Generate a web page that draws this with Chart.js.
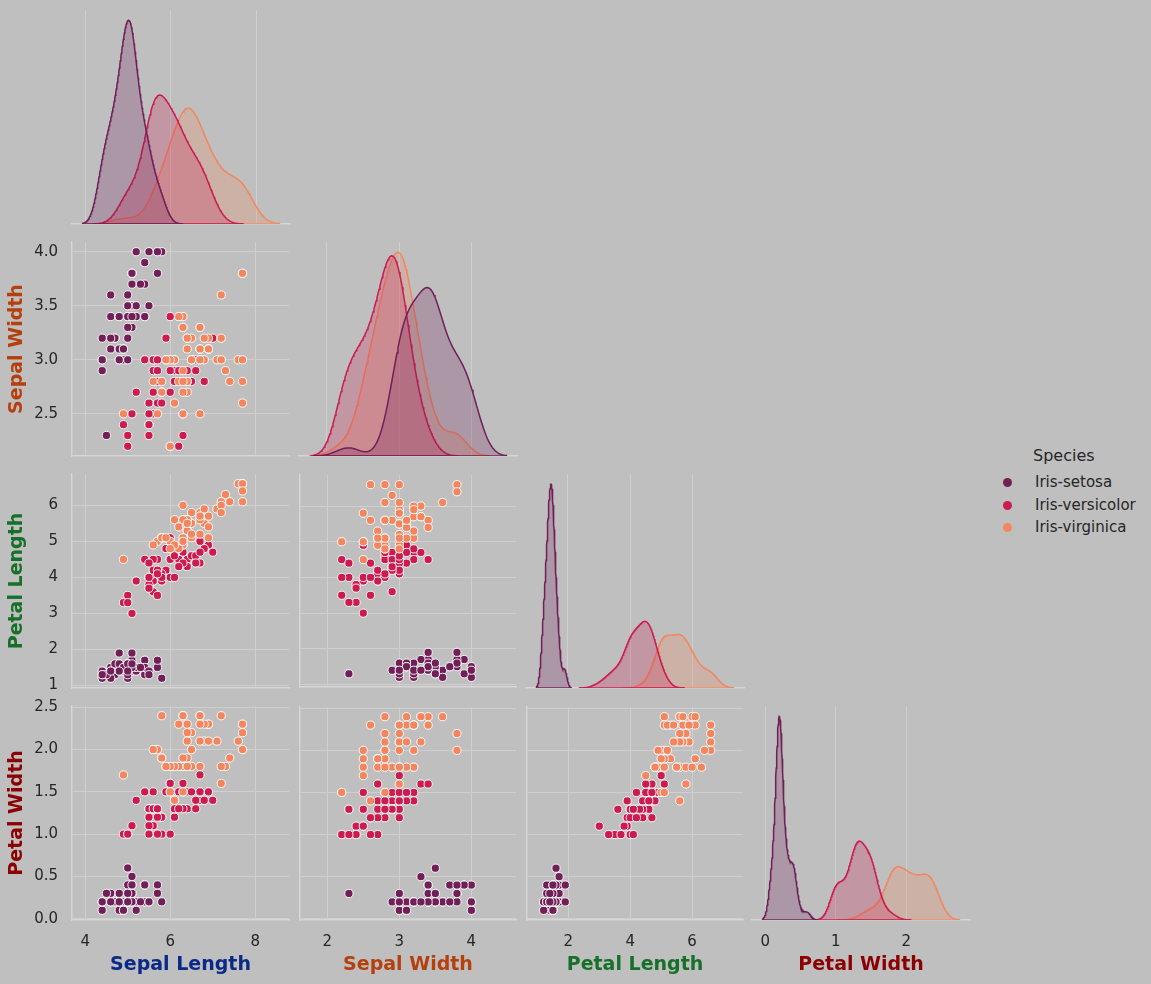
<!DOCTYPE html>
<html>
<head>
<meta charset="utf-8">
<script src="https://cdn.jsdelivr.net/npm/chart.js@4.4.0/dist/chart.umd.min.js"></script>
<style>
  html, body { margin: 0; padding: 0; background: #bfbfbf; overflow: hidden; }
  #wrap { position: relative; width: 1151px; height: 984px; font-family: 'DejaVu Sans', sans-serif; color: #262626; }
  #wrap canvas { position: absolute; }
  .lg-title { position: absolute; font-size: 16px; line-height: 18px; white-space: nowrap; }
  .lg-text { position: absolute; font-size: 15px; line-height: 18px; white-space: nowrap; }
  .lg-dot { position: absolute; width: 9px; height: 9px; border-radius: 50%; }
</style>
</head>
<body>
<div id="wrap"></div>
<script>
// Iris data (values as plotted: extremes sit at the 2nd / 98th percentile)
const species = ['Iris-setosa', 'Iris-versicolor', 'Iris-virginica'];
const speciesColors = ['#701f57', '#cb1b4f', '#f3865f'];
const features = ['Sepal Length', 'Sepal Width', 'Petal Length', 'Petal Width'];
const featureColors = ['#0b2a87', '#b5400f', '#17702a', '#8b0000'];

const setosaSepalLength = [5.1,4.9,4.7,4.6,5.0,5.4,4.6,5.0,4.4,4.9,5.4,4.8,4.8,4.4,5.8,5.7,5.4,5.1,5.7,5.1,5.4,5.1,4.6,5.1,4.8,5.0,5.0,5.2,5.2,4.7,4.8,5.4,5.2,5.5,4.9,5.0,5.5,4.9,4.4,5.1,5.0,4.5,4.4,5.0,5.1,4.8,5.1,4.6,5.3,5.0];
const setosaSepalWidth  = [3.5,3.0,3.2,3.1,3.6,3.9,3.4,3.4,2.9,3.1,3.7,3.4,3.0,3.0,4.0,4.0,3.9,3.5,3.8,3.8,3.4,3.7,3.6,3.3,3.4,3.0,3.4,3.5,3.4,3.2,3.1,3.4,4.0,4.0,3.1,3.2,3.5,3.1,3.0,3.4,3.5,2.3,3.2,3.5,3.8,3.0,3.8,3.2,3.7,3.3];
const setosaPetalLength = [1.4,1.4,1.3,1.5,1.4,1.7,1.4,1.5,1.4,1.5,1.5,1.6,1.4,1.2,1.2,1.5,1.3,1.4,1.7,1.5,1.7,1.5,1.2,1.7,1.9,1.6,1.6,1.5,1.4,1.6,1.6,1.5,1.5,1.4,1.5,1.2,1.3,1.5,1.3,1.5,1.3,1.3,1.3,1.6,1.9,1.4,1.6,1.4,1.5,1.4];
const setosaPetalWidth  = [0.2,0.2,0.2,0.2,0.2,0.4,0.3,0.2,0.2,0.1,0.2,0.2,0.1,0.1,0.2,0.4,0.4,0.3,0.3,0.3,0.2,0.4,0.2,0.5,0.2,0.2,0.4,0.2,0.2,0.2,0.2,0.4,0.1,0.2,0.1,0.2,0.2,0.1,0.2,0.2,0.3,0.3,0.2,0.6,0.4,0.3,0.2,0.2,0.2,0.2];

const versicolorSepalLength = [7.0,6.4,6.9,5.5,6.5,5.7,6.3,4.9,6.6,5.2,5.0,5.9,6.0,6.1,5.6,6.7,5.6,5.8,6.2,5.6,5.9,6.1,6.3,6.1,6.4,6.6,6.8,6.7,6.0,5.7,5.5,5.5,5.8,6.0,5.4,6.0,6.7,6.3,5.6,5.5,5.5,6.1,5.8,5.0,5.6,5.7,5.7,6.2,5.1,5.7];
const versicolorSepalWidth  = [3.2,3.2,3.1,2.3,2.8,2.8,3.3,2.4,2.9,2.7,2.2,3.0,2.2,2.9,2.9,3.1,3.0,2.7,2.2,2.5,3.2,2.8,2.5,2.8,2.9,3.0,2.8,3.0,2.9,2.6,2.4,2.4,2.7,2.7,3.0,3.4,3.1,2.3,3.0,2.5,2.6,3.0,2.6,2.3,2.7,3.0,2.9,2.9,2.5,2.8];
const versicolorPetalLength = [4.7,4.5,4.9,4.0,4.6,4.5,4.7,3.3,4.6,3.9,3.5,4.2,4.0,4.7,3.6,4.4,4.5,4.1,4.5,3.9,4.8,4.0,4.9,4.7,4.3,4.4,4.8,5.0,4.5,3.5,3.8,3.7,3.9,5.1,4.5,4.5,4.7,4.4,4.1,4.0,4.4,4.6,4.0,3.3,4.2,4.2,4.2,4.3,3.0,4.1];
const versicolorPetalWidth  = [1.4,1.5,1.5,1.3,1.5,1.3,1.6,1.0,1.3,1.4,1.0,1.5,1.0,1.4,1.3,1.4,1.5,1.0,1.5,1.1,1.8,1.3,1.5,1.2,1.3,1.4,1.4,1.7,1.5,1.0,1.1,1.0,1.2,1.6,1.5,1.6,1.5,1.3,1.3,1.3,1.2,1.4,1.2,1.0,1.3,1.2,1.3,1.3,1.1,1.3];

const virginicaSepalLength = [6.3,5.8,7.1,6.3,6.5,7.6,4.9,7.3,6.7,7.2,6.5,6.4,6.8,5.7,5.8,6.4,6.5,7.7,7.7,6.0,6.9,5.6,7.7,6.3,6.7,7.2,6.2,6.1,6.4,7.2,7.4,7.7,6.4,6.3,6.1,7.7,6.3,6.4,6.0,6.9,6.7,6.9,5.8,6.8,6.7,6.7,6.3,6.5,6.2,5.9];
const virginicaSepalWidth  = [3.3,2.7,3.0,2.9,3.0,3.0,2.5,2.9,2.5,3.6,3.2,2.7,3.0,2.5,2.8,3.2,3.0,3.8,2.6,2.2,3.2,2.8,2.8,2.7,3.3,3.2,2.8,3.0,2.8,3.0,2.8,3.8,2.8,2.8,2.6,3.0,3.4,3.1,3.0,3.1,3.1,3.1,2.7,3.2,3.3,3.0,2.5,3.0,3.4,3.0];
const virginicaPetalLength = [6.0,5.1,5.9,5.6,5.8,6.6,4.5,6.3,5.8,6.1,5.1,5.3,5.5,5.0,5.1,5.3,5.5,6.6,6.6,5.0,5.7,4.9,6.6,4.9,5.7,6.0,4.8,4.9,5.6,5.8,6.1,6.4,5.6,5.1,5.6,6.1,5.6,5.5,4.8,5.4,5.6,5.1,5.1,5.9,5.7,5.2,5.0,5.2,5.4,5.1];
const virginicaPetalWidth  = [2.4,1.9,2.1,1.8,2.2,2.1,1.7,1.8,1.8,2.4,2.0,1.9,2.1,2.0,2.4,2.3,1.8,2.2,2.3,1.5,2.3,2.0,2.0,1.8,2.1,1.8,1.8,1.8,2.1,1.6,1.9,2.0,2.2,1.5,1.4,2.3,2.4,1.8,1.8,2.1,2.4,2.3,1.9,2.3,2.4,2.3,1.9,2.0,2.3,1.8];

// tick steps / label decimals
const xTickSteps = [2, 1, 2, 1];      // x ticks of each column
const xTickDecimals = [0, 0, 0, 0];
const yTickSteps = [1, 0.5, 1, 0.5];  // y ticks of each row
const yTickDecimals = [0, 1, 0, 1];

// data[species][feature]
const data = [
  [setosaSepalLength, setosaSepalWidth, setosaPetalLength, setosaPetalWidth],
  [versicolorSepalLength, versicolorSepalWidth, versicolorPetalLength, versicolorPetalWidth],
  [virginicaSepalLength, virginicaSepalWidth, virginicaPetalLength, virginicaPetalWidth]
];
const totalCount = data.reduce((s, sp) => s + sp[0].length, 0);

// layout of the grid
const colLeft = [72, 299, 526, 752];
const rowTop = [10, 242, 474, 706];
const W = 218, H = 214;
const gridColor = '#cfcfcf';
const spineColor = '#d6d6d6';
const tickColor = '#262626';
const FONT = "'DejaVu Sans', sans-serif";

Chart.defaults.font.family = FONT;
Chart.defaults.color = tickColor;

/**
 * Gaussian KDE like seaborn (scott bandwidth, cut 3, 200 points, common_norm).
 */
function kdeCurve(values) {
  const n = values.length;
  const mean = values.reduce((a, b) => a + b, 0) / n;
  const sd = Math.sqrt(values.reduce((a, v) => a + (v - mean) ** 2, 0) / (n - 1));
  const bw = sd * Math.pow(n, -0.2);
  const lo = Math.min(...values) - 3 * bw;
  const hi = Math.max(...values) + 3 * bw;
  const pts = [];
  for (let k = 0; k < 200; k++) {
    const x = lo + (hi - lo) * k / 199;
    let s = 0;
    for (const v of values) s += Math.exp(-0.5 * ((x - v) / bw) ** 2);
    const d = s / (n * bw * Math.sqrt(2 * Math.PI)) * (n / totalCount);
    pts.push({ x, y: d });
  }
  return { pts, lo, hi };
}

const kdes = features.map((f, j) => data.map(sp => kdeCurve(sp[j])));

// shared column x ranges (kde supports + 5% margin)
const xRanges = kdes.map(list => {
  const lo = Math.min(...list.map(k => k.lo));
  const hi = Math.max(...list.map(k => k.hi));
  const r = hi - lo;
  return [lo - 0.05 * r, hi + 0.05 * r];
});
// shared row y ranges (scatter data + 5% margin)
const yRanges = features.map((f, j) => {
  const all = data.flatMap(sp => sp[j]);
  const lo = Math.min(...all), hi = Math.max(...all);
  const r = hi - lo;
  return [lo - 0.05 * r, hi + 0.05 * r];
});
const diagMax = kdes.map(list => Math.max(...list.flatMap(k => k.pts.map(p => p.y))) * 1.05);

function fixBox(prop, val) {
  return s => {
    s[prop] = val;
    s.paddingLeft = 0; s.paddingRight = 0; s.paddingTop = 0; s.paddingBottom = 0;
  };
}

function fmt(dec) {
  return v => Number(v).toFixed(dec);
}

const wrap = document.getElementById('wrap');

function makePanel(r, c) {
  const isDiag = r === c;
  const labelled = c === 0 && r > 0;
  const padL = labelled ? colLeft[0] : 4;
  const padB = r === 3 ? 64 : (labelled ? 12 : 4);
  const padT = labelled ? 12 : 4;
  const padR = 4;

  const canvas = document.createElement('canvas');
  canvas.width = W + padL + padR;
  canvas.height = H + padT + padB;
  canvas.style.left = (colLeft[c] - padL) + 'px';
  canvas.style.top = (rowTop[r] - padT) + 'px';
  wrap.appendChild(canvas);

  const xScale = {
    type: 'linear',
    min: xRanges[c][0],
    max: xRanges[c][1],
    afterFit: fixBox('height', padB),
    grid: { color: gridColor, lineWidth: 1, drawTicks: false },
    border: { display: true, color: spineColor, width: 1.5 },
    ticks: {
      display: r === 3,
      stepSize: xTickSteps[c],
      includeBounds: false,
      padding: 13,
      maxRotation: 0,
      autoSkip: false,
      color: tickColor,
      font: { size: 15 },
      callback: fmt(xTickDecimals[c])
    },
    title: {
      display: r === 3,
      text: features[c],
      color: featureColors[c],
      font: { size: 19, weight: 'bold' },
      padding: { top: 0, bottom: 8 }
    }
  };

  let yScale, datasets, type;
  if (isDiag) {
    type = 'line';
    yScale = {
      type: 'linear',
      min: 0,
      max: diagMax[c],
      afterFit: fixBox('width', padL),
      grid: { display: false },
      border: { display: false },
      ticks: { display: false }
    };
    datasets = species.map((name, k) => ({
      label: name,
      data: kdes[c][k].pts,
      borderColor: speciesColors[k],
      backgroundColor: speciesColors[k] + '40',
      borderWidth: 1.5,
      pointRadius: 0,
      fill: 'origin',
      tension: 0,
      order: k + 1
    }));
    // edge of each filled area along the baseline
    species.forEach((name, k) => {
      datasets.push({
        label: name + ' base',
        data: [{ x: kdes[c][k].lo, y: 0 }, { x: kdes[c][k].hi, y: 0 }],
        borderColor: speciesColors[k],
        borderWidth: 1.5,
        pointRadius: 0,
        fill: false,
        order: k + 1
      });
    });
  } else {
    type = 'scatter';
    yScale = {
      type: 'linear',
      min: yRanges[r][0],
      max: yRanges[r][1],
      afterFit: fixBox('width', padL),
      grid: { color: gridColor, lineWidth: 1, drawTicks: false },
      border: { display: true, color: spineColor, width: 1.5 },
      ticks: {
        display: c === 0,
        stepSize: yTickSteps[r],
        includeBounds: false,
        padding: 14,
        color: tickColor,
        font: { size: 15 },
        callback: fmt(yTickDecimals[r])
      },
      title: {
        display: c === 0,
        text: features[r],
        color: featureColors[r],
        font: { size: 19, weight: 'bold' },
        padding: { top: 6, bottom: 0 }
      }
    };
    datasets = species.map((name, k) => ({
      label: name,
      data: data[k][c].map((v, i) => ({ x: v, y: data[k][r][i] })),
      backgroundColor: speciesColors[k],
      borderColor: '#ffffff',
      borderWidth: 0.9,
      pointRadius: 4.1,
      order: 3 - k
    }));
  }

  new Chart(canvas, {
    type,
    data: { datasets },
    options: {
      responsive: false,
      animation: false,
      events: [],
      devicePixelRatio: 1,
      layout: { padding: { top: padT, right: padR, left: 0, bottom: 0 } },
      plugins: { legend: { display: false }, tooltip: { enabled: false } },
      scales: { x: xScale, y: yScale }
    }
  });
}

for (let r = 0; r < 4; r++) {
  for (let c = 0; c <= r; c++) makePanel(r, c);
}

// legend
function addLegend() {
  const title = document.createElement('div');
  title.className = 'lg-title';
  title.textContent = 'Species';
  title.style.left = '1033px';
  title.style.top = '447px';
  wrap.appendChild(title);
  const ys = [482.7, 505.3, 527.7];
  species.forEach((name, k) => {
    const dot = document.createElement('div');
    dot.className = 'lg-dot';
    dot.style.background = speciesColors[k];
    dot.style.left = (1007.3 - 4.5) + 'px';
    dot.style.top = (ys[k] - 4.5) + 'px';
    wrap.appendChild(dot);
    const t = document.createElement('div');
    t.className = 'lg-text';
    t.textContent = name;
    t.style.left = '1035px';
    t.style.top = (ys[k] - 9.7) + 'px';
    wrap.appendChild(t);
  });
}
addLegend();
</script>
</body>
</html>
